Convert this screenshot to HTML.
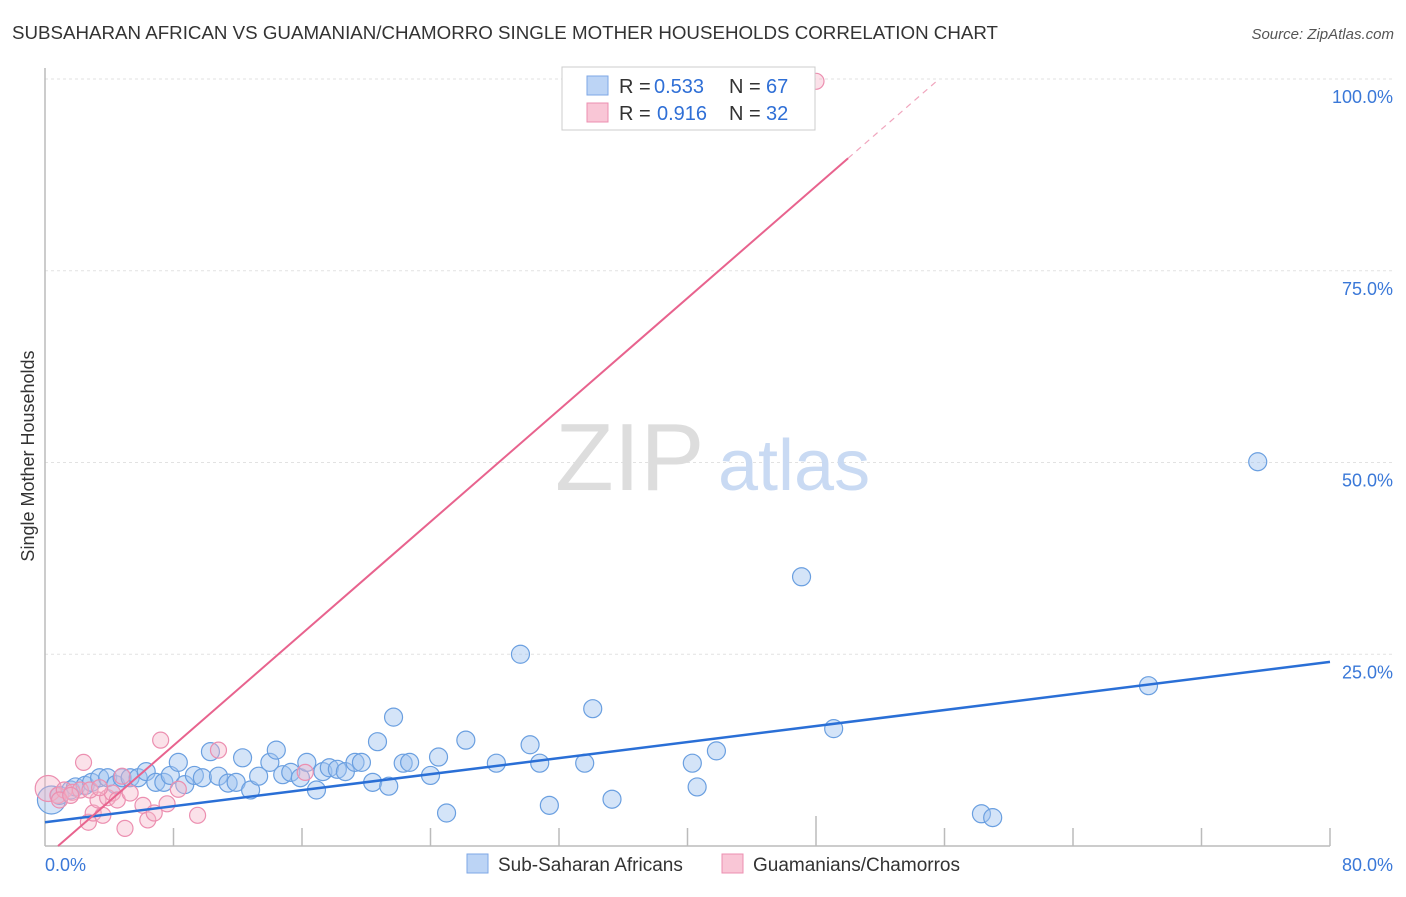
<!DOCTYPE html>
<html><head><meta charset="utf-8"><style>
body{margin:0;background:#fff;font-family:"Liberation Sans",sans-serif;}
svg text{font-family:"Liberation Sans",sans-serif;}
</style></head><body>
<svg id="chart" width="1406" height="892" viewBox="0 0 1406 892" xmlns="http://www.w3.org/2000/svg">
<text x="12" y="39" font-size="18" fill="#333" textLength="986" lengthAdjust="spacingAndGlyphs">SUBSAHARAN AFRICAN VS GUAMANIAN/CHAMORRO SINGLE MOTHER HOUSEHOLDS CORRELATION CHART</text>
<text x="1394" y="39" font-size="15" fill="#555" font-style="italic" text-anchor="end">Source: ZipAtlas.com</text>
<g id="grid"></g>
<text x="555" y="490" font-size="96" fill="#ddd" font-family="Liberation Serif,serif">ZIP</text>
<text x="718" y="490" font-size="72" fill="#c9daf3">atlas</text>
<g id="axes"></g>
<g id="pts"></g>
<g id="lines"></g>
<text transform="translate(34,456) rotate(-90)" font-size="18" fill="#333" text-anchor="middle">Single Mother Households</text>
<g>
<rect x="562" y="67" width="253" height="63" fill="#fff" stroke="#ccc"/>
<rect x="587" y="76" width="21" height="19" fill="#bcd4f5" stroke="#7ea7e6"/>
<text x="619" y="93" font-size="20" fill="#333">R =</text>
<text x="654" y="93" font-size="20" fill="#2f6fd6">0.533</text>
<text x="729" y="93" font-size="20" fill="#333">N =</text>
<text x="766" y="93" font-size="20" fill="#2f6fd6">67</text>
<rect x="587" y="103" width="21" height="19" fill="#f9c6d6" stroke="#ec8fb0"/>
<text x="619" y="120" font-size="20" fill="#333">R =</text>
<text x="657" y="120" font-size="20" fill="#2f6fd6">0.916</text>
<text x="729" y="120" font-size="20" fill="#333">N =</text>
<text x="766" y="120" font-size="20" fill="#2f6fd6">32</text>
</g>
<g>
<rect x="467" y="854" width="21" height="19" fill="#bcd4f5" stroke="#7ea7e6"/>
<text x="498" y="871" font-size="19" fill="#333">Sub-Saharan Africans</text>
<rect x="722" y="854" width="21" height="19" fill="#f9c6d6" stroke="#ec8fb0"/>
<text x="753" y="871" font-size="19" fill="#333">Guamanians/Chamorros</text>
</g>
</svg>
<script>
const xTicks=[0,8,16,24,32,40,48,56,64,72,80];
const yTicks=[25,50,75,100];
const blueX=[0.4,0.9,1.6,1.9,2.5,2.9,3.4,3.9,4.4,4.8,5.3,5.8,6.3,6.9,7.4,7.8,8.3,8.7,9.3,9.8,10.3,10.8,11.4,11.9,12.3,12.8,13.3,14.0,14.4,14.8,15.3,15.9,16.3,16.9,17.3,17.7,18.2,18.7,19.3,19.7,20.4,20.7,21.4,21.7,22.3,22.7,24.0,24.5,25.0,26.2,28.1,29.6,30.2,30.8,31.4,33.6,34.1,35.3,40.3,40.6,41.8,47.1,49.1,58.3,59.0,68.7,75.5];
const blueY=[6.0,6.6,7.3,7.7,7.9,8.3,8.9,8.9,8.0,8.9,8.9,8.9,9.7,8.3,8.3,9.2,10.9,8.0,9.2,8.9,12.3,9.1,8.2,8.3,11.5,7.3,9.1,10.9,12.5,9.3,9.6,8.9,10.9,7.3,9.7,10.2,10.0,9.7,10.9,10.9,8.3,13.6,7.8,16.8,10.8,10.9,9.2,11.6,4.3,13.8,10.8,25.0,13.2,10.8,5.3,10.8,17.9,6.1,10.8,7.7,12.4,35.1,15.3,4.2,3.7,20.9,50.1];
const pinkX=[0.2,0.8,1.2,1.7,2.2,2.4,2.7,3.0,3.3,3.6,3.9,4.2,4.5,4.98,4.8,5.3,6.1,6.4,6.8,7.2,7.6,8.3,9.5,10.8,16.2,48.0,0.9,1.6,2.8,3.4];
const pinkY=[7.5,6.6,7.3,7.0,7.3,10.9,3.1,4.3,6.0,4.0,6.3,6.9,6.0,2.3,9.1,6.9,5.3,3.4,4.3,13.8,5.5,7.4,4.0,12.5,9.6,99.7,6.0,6.6,7.3,7.6];
const blueFit=[3.1,24.0];
const pinkSlope=1.823, pinkIcpt=-1.48;
const X0=45,X1=1330,Y0=846,Y100=79;
const sx=v=>X0+(X1-X0)*v/80;
const sy=v=>Y0-(Y0-Y100)*v/100;
const NS="http://www.w3.org/2000/svg";
function mk(tag,attrs,parent){const e=document.createElementNS(NS,tag);for(const k in attrs)e.setAttribute(k,attrs[k]);document.getElementById(parent).appendChild(e);return e;}
yTicks.forEach(t=>{
 const l=mk('line',{x1:X0,x2:1394,y1:sy(t),y2:sy(t),stroke:'#e2e2e2','stroke-dasharray':'3,3'},'grid');
 
 
 const tx=mk('text',{x:1393,y:sy(t)+24,'font-size':18,fill:'#3a78d8','text-anchor':'end'},'axes');
 tx.textContent=t.toFixed(1)+'%';
 
 
});
const ax=mk('line',{x1:X0,x2:X0,y1:68,y2:Y0,stroke:'#bbb','stroke-width':1.5},'axes');


const bx=mk('line',{x1:X0,x2:X1,y1:Y0,y2:Y0,stroke:'#bbb','stroke-width':1.5},'axes');


xTicks.forEach((t,i)=>{
 if(i>0){const tk=mk('line',{x1:sx(t),x2:sx(t),y1:Y0-(t===48?30:18),y2:Y0,stroke:'#bbb','stroke-width':1.5},'axes');
 
 }
});
[[0,'start'],[80,'end']].forEach(([t,a])=>{
 const tx=mk('text',{x:t===0?X0:1393,y:871,'font-size':18,fill:'#3a78d8','text-anchor':a},'axes');
 tx.textContent=t.toFixed(1)+'%';
 
 
});
blueX.forEach((v,i)=>{
 const c=mk('circle',{cx:sx(v),cy:sy(blueY[i]),r:i===0?14:9,fill:'rgba(160,196,240,0.45)',stroke:'#6a9fe0','stroke-width':1.2},'pts');
 
 
});
pinkX.forEach((v,i)=>{
 const c=mk('circle',{cx:sx(v),cy:sy(pinkY[i]),r:i===0?13:8,fill:'rgba(246,180,200,0.4)',stroke:'#ec8fb0','stroke-width':1.2},'pts');
 
 
});
const bl=mk('line',{x1:sx(0),y1:sy(blueFit[0]),x2:sx(80),y2:sy(blueFit[1]),stroke:'#2a6fd6','stroke-width':2.5},'lines');


const px0=-pinkIcpt/pinkSlope, px1=50, px2=(100-pinkIcpt)/pinkSlope;
const pl=mk('line',{x1:sx(px0),y1:sy(0),x2:sx(px1),y2:sy(pinkSlope*px1+pinkIcpt),stroke:'#e8638e','stroke-width':2},'lines');


const pd=mk('line',{x1:sx(px1),y1:sy(pinkSlope*px1+pinkIcpt),x2:sx(px2),y2:sy(100),stroke:'#f0a5bd','stroke-width':1.2,'stroke-dasharray':'6,5'},'lines');


</script>
</body></html>
